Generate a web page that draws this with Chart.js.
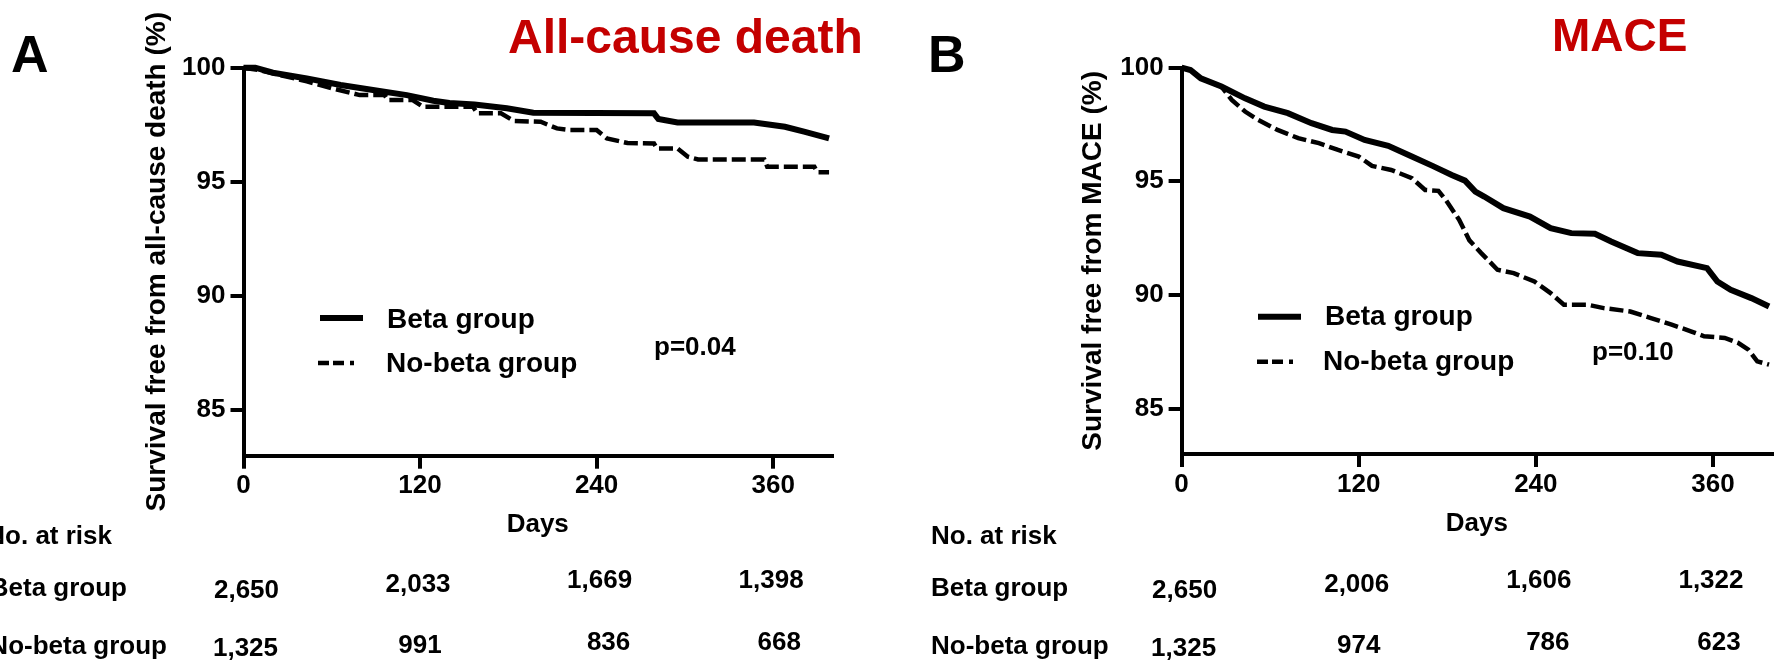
<!DOCTYPE html>
<html>
<head>
<meta charset="utf-8">
<script src="https://cdn.jsdelivr.net/npm/chart.js@4.4.1/dist/chart.umd.min.js"></script>
<style>
    html, body { margin: 0; padding: 0; background: #fff; }
    body { width: 1775px; height: 662px; position: relative; overflow: hidden; }
    canvas { position: absolute; top: 0; }
    #panelA { left: 0; }
    #panelB { left: 900px; }
</style>
</head>
<body>
<canvas id="panelA" width="900" height="662"></canvas>
<canvas id="panelB" width="875" height="662"></canvas>
<script>
const FONT = "'Liberation Sans', Arial, Helvetica, sans-serif";

const xTicks = [0, 120, 240, 360];
const yTicks = [85, 90, 95, 100];
const groupLabels = ['Beta group', 'No-beta group'];
const riskDays = [0, 120, 240, 360];

// Panel A - all-cause death
const deathBetaDays = [0, 8, 20, 43, 66, 88, 111, 129, 140, 157, 179, 197, 279, 282, 295, 347, 368, 381, 398];
const deathBetaSurv = [100, 100, 99.78, 99.53, 99.24, 99.02, 98.8, 98.55, 98.45, 98.39, 98.22, 98.03, 98.0, 97.75, 97.6, 97.6, 97.41, 97.2, 96.9];
const deathNoBetaDays = [0, 10, 20, 30, 43, 60, 79, 96, 98, 115, 122, 156, 159, 175, 184, 202, 213, 222, 240, 247, 261, 279, 281, 295, 302, 309, 354, 356, 388, 390, 398];
const deathNoBetaSurv = [100, 99.9, 99.75, 99.6, 99.4, 99.1, 98.8, 98.8, 98.58, 98.58, 98.29, 98.29, 98.0, 98.0, 97.66, 97.63, 97.34, 97.27, 97.27, 96.9, 96.7, 96.68, 96.46, 96.46, 96.1, 95.98, 95.98, 95.66, 95.66, 95.42, 95.42];
const deathRiskBeta = [2650, 2033, 1669, 1398];
const deathRiskNoBeta = [1325, 991, 836, 668];

// Panel B - MACE
const maceBetaDays = [0, 6, 13, 27, 43, 56, 72, 88, 102, 111, 124, 140, 156, 170, 183, 192, 199, 205, 218, 236, 250, 264, 280, 291, 309, 325, 336, 356, 363, 372, 386, 398];
const maceBetaSurv = [100, 99.9, 99.53, 99.17, 98.65, 98.29, 98.0, 97.56, 97.26, 97.19, 96.82, 96.56, 96.09, 95.68, 95.28, 95.03, 94.55, 94.33, 93.82, 93.45, 92.94, 92.72, 92.69, 92.35, 91.84, 91.77, 91.47, 91.18, 90.59, 90.23, 89.86, 89.49];
const maceNoBetaDays = [0, 6, 13, 27, 34, 43, 52, 65, 79, 93, 106, 120, 129, 142, 156, 165, 174, 179, 188, 195, 203, 214, 225, 239, 250, 259, 275, 286, 304, 318, 332, 345, 354, 368, 377, 384, 390, 398];
const maceNoBetaSurv = [100, 99.9, 99.53, 99.17, 98.58, 98.07, 97.7, 97.26, 96.9, 96.68, 96.38, 96.09, 95.68, 95.5, 95.14, 94.62, 94.58, 94.18, 93.31, 92.4, 91.84, 91.11, 90.96, 90.59, 90.08, 89.57, 89.57, 89.42, 89.27, 88.98, 88.69, 88.4, 88.18, 88.11, 87.89, 87.59, 87.08, 86.93];
const maceRiskBeta = [2650, 2006, 1606, 1322];
const maceRiskNoBeta = [1325, 974, 786, 623];

function toPoints(days, surv) {
    return days.map((d, i) => ({ x: d, y: surv[i] }));
}

// small per-cell nudges of the at-risk numbers, as in the figure
const riskDx = [[3, -2, 3, -2], [2, 0, 12, 6]];
const riskBaseline = [[598, 592, 588, 588], [656, 653, 650, 650]];

function textPlugin(p) {
    return {
        id: 'panelText',
        afterDraw(chart) {
            const ctx = chart.ctx;
            const xs = chart.scales.x;
            ctx.save();
            ctx.textBaseline = 'alphabetic';
            ctx.textAlign = 'left';

            // panel letter
            ctx.fillStyle = '#000';
            ctx.font = `bold 52px ${FONT}`;
            ctx.fillText(p.letter, p.letterX, 72);

            // red heading
            ctx.fillStyle = '#c40000';
            ctx.font = `bold ${p.titleSize}px ${FONT}`;
            ctx.fillText(p.title, p.titleX, p.titleY);

            // legend
            ctx.strokeStyle = '#000';
            ctx.fillStyle = '#000';
            ctx.lineWidth = 6;
            ctx.beginPath();
            ctx.moveTo(p.leg.x1, p.leg.y1);
            ctx.lineTo(p.leg.x1 + 43, p.leg.y1);
            ctx.stroke();
            ctx.lineWidth = 4.5;
            ctx.setLineDash([11, 4, 11, 6, 4, 30]);
            ctx.beginPath();
            ctx.moveTo(p.leg.x2, p.leg.y2);
            ctx.lineTo(p.leg.x2 + 44, p.leg.y2);
            ctx.stroke();
            ctx.setLineDash([]);
            ctx.font = `bold 28px ${FONT}`;
            ctx.fillText(groupLabels[0], p.leg.t1x, p.leg.t1y);
            ctx.fillText(groupLabels[1], p.leg.t2x, p.leg.t2y);

            // p value
            ctx.font = `bold 26px ${FONT}`;
            ctx.fillText(p.pText, p.pX, p.pY);

            // number at risk table
            ctx.textAlign = p.labelAlign;
            ctx.fillText('No. at risk', p.labelX[0], 543.5);
            ctx.fillText(groupLabels[0], p.labelX[1], 596);
            ctx.fillText(groupLabels[1], p.labelX[2], 654);
            ctx.textAlign = 'center';
            [p.riskBeta, p.riskNoBeta].forEach((row, r) => {
                row.forEach((n, i) => {
                    const x = xs.getPixelForValue(riskDays[i]) + riskDx[r][i];
                    ctx.fillText(n.toLocaleString('en-US'), x, riskBaseline[r][i]);
                });
            });
            ctx.restore();
        }
    };
}

function buildPanel(canvasId, p) {
    const ctx = document.getElementById(canvasId).getContext('2d');
    const tickFont = { family: FONT, size: 26, weight: 'bold' };
    return new Chart(ctx, {
        type: 'line',
        data: {
            datasets: [{
                label: groupLabels[0],
                data: toPoints(p.betaDays, p.betaSurv),
                borderColor: '#000',
                borderWidth: 6,
                pointRadius: 0,
                tension: 0,
                fill: false,
                clip: false
            }, {
                label: groupLabels[1],
                data: toPoints(p.noBetaDays, p.noBetaSurv),
                borderColor: '#000',
                borderWidth: 4.5,
                borderDash: [14, 5],
                pointRadius: 0,
                tension: 0,
                fill: false,
                clip: false
            }]
        },
        options: {
            responsive: false,
            animation: false,
            devicePixelRatio: 1,
            layout: { padding: p.padding },
            plugins: {
                legend: { display: false },
                tooltip: { enabled: false },
                title: { display: false }
            },
            scales: {
                x: {
                    type: 'linear',
                    min: 0,
                    max: 400,
                    afterBuildTicks: (s) => { s.ticks = xTicks.map(v => ({ value: v })); },
                    afterFit: (s) => { s.height = 90; },
                    grid: { display: true, drawOnChartArea: false, drawTicks: true, tickLength: 13, lineWidth: 4, color: '#000' },
                    border: { display: true, width: 4, color: '#000' },
                    ticks: { color: '#000', padding: 2, autoSkip: false, maxRotation: 0, font: tickFont },
                    title: { display: true, text: 'Days', color: '#000', font: tickFont, padding: { top: 0, bottom: 5 } }
                },
                y: {
                    min: 83,
                    max: 100,
                    afterBuildTicks: (s) => { s.ticks = yTicks.map(v => ({ value: v })); },
                    afterFit: (s) => { s.width = p.yWidth; },
                    grid: { display: true, drawOnChartArea: false, drawTicks: true, tickLength: 13, lineWidth: 4, color: '#000' },
                    border: { display: true, width: 4, color: '#000' },
                    ticks: { color: '#000', padding: 5, font: tickFont },
                    title: {
                        display: true,
                        text: p.yTitle,
                        color: '#000',
                        font: { family: FONT, size: 28, weight: 'bold' },
                        padding: { top: p.yTitlePad, bottom: 0 }
                    }
                }
            }
        },
        plugins: [textPlugin(p)]
    });
}

buildPanel('panelA', {
    betaDays: deathBetaDays, betaSurv: deathBetaSurv,
    noBetaDays: deathNoBetaDays, noBetaSurv: deathNoBetaSurv,
    riskBeta: deathRiskBeta, riskNoBeta: deathRiskNoBeta,
    yTitle: 'Survival free from all-cause death (%)',
    padding: { left: 0, top: 67.7, right: 68, bottom: 116.3 },
    yWidth: 243.5, yTitlePad: 140,
    letter: 'A', letterX: 11,
    title: 'All-cause death', titleX: 508, titleY: 53, titleSize: 48,
    leg: { x1: 320, y1: 318, x2: 318, y2: 363, t1x: 387, t1y: 328, t2x: 386, t2y: 372 },
    pText: 'p=0.04', pX: 654, pY: 355,
    labelAlign: 'right', labelX: [112, 127, 167]
});

buildPanel('panelB', {
    betaDays: maceBetaDays, betaSurv: maceBetaSurv,
    noBetaDays: maceNoBetaDays, noBetaSurv: maceNoBetaSurv,
    riskBeta: maceRiskBeta, riskNoBeta: maceRiskNoBeta,
    yTitle: 'Survival free from MACE (%)',
    padding: { left: 0, top: 67.7, right: 3, bottom: 118 },
    yWidth: 281.6, yTitlePad: 176,
    letter: 'B', letterX: 28,
    title: 'MACE', titleX: 652, titleY: 51, titleSize: 46,
    leg: { x1: 358, y1: 316.7, x2: 357, y2: 361.7, t1x: 425, t1y: 325, t2x: 423, t2y: 370 },
    pText: 'p=0.10', pX: 692, pY: 360,
    labelAlign: 'left', labelX: [31, 31, 31]
});
</script>
</body>
</html>
